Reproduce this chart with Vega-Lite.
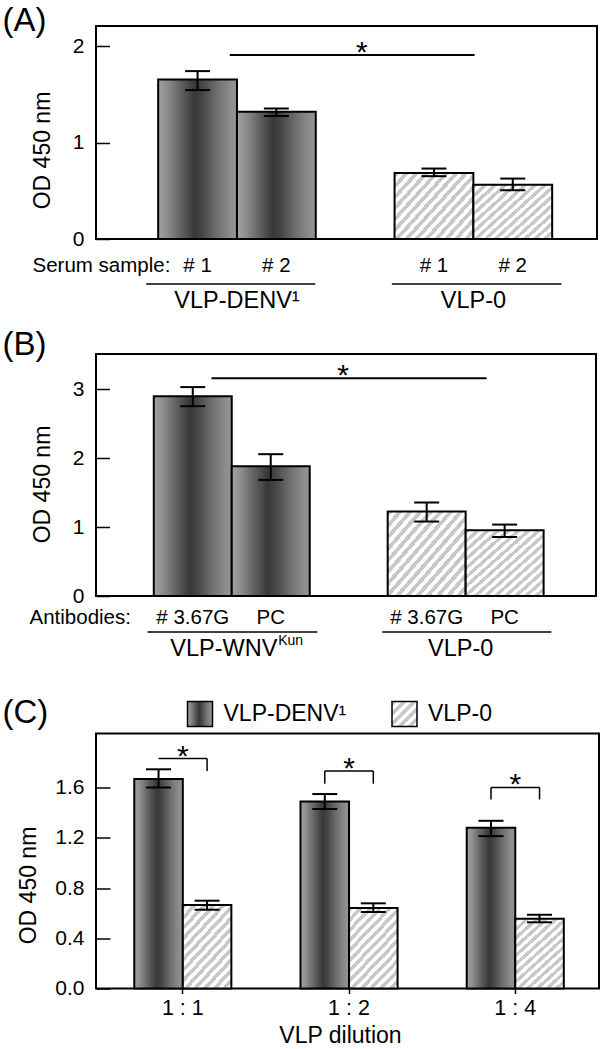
{
  "$schema": "https://vega.github.io/schema/vega-lite/v6.json",
  "background": "white",
  "padding": {"left": 1, "top": 4, "right": 0, "bottom": 0},
  "params": [
    {"name": "G", "value": "#c8c8c8"},
    {"name": "W", "value": "#ffffff"},
    {"name": "dark", "expr": "{gradient:'linear',x1:0,y1:0,x2:1,y2:0,stops:[{offset:0,color:'#a2a2a2'},{offset:0.12,color:'#8c8c8c'},{offset:0.3,color:'#5e5e5e'},{offset:0.46,color:'#383838'},{offset:0.56,color:'#464646'},{offset:0.74,color:'#6e6e6e'},{offset:0.9,color:'#8a8a8a'},{offset:1,color:'#969696'}]}"},
    {"name": "hatchA", "expr": "{gradient:'linear',x1:0,y1:0,x2:1.116,y2:0.847,stops:[{offset:0,color:G},{offset:0.0357,color:G},{offset:0.0357,color:W},{offset:0.0714,color:W},{offset:0.0714,color:G},{offset:0.1071,color:G},{offset:0.1071,color:W},{offset:0.1429,color:W},{offset:0.1429,color:G},{offset:0.1786,color:G},{offset:0.1786,color:W},{offset:0.2143,color:W},{offset:0.2143,color:G},{offset:0.25,color:G},{offset:0.25,color:W},{offset:0.2857,color:W},{offset:0.2857,color:G},{offset:0.3214,color:G},{offset:0.3214,color:W},{offset:0.3571,color:W},{offset:0.3571,color:G},{offset:0.3929,color:G},{offset:0.3929,color:W},{offset:0.4286,color:W},{offset:0.4286,color:G},{offset:0.4643,color:G},{offset:0.4643,color:W},{offset:0.5,color:W},{offset:0.5,color:G},{offset:0.5357,color:G},{offset:0.5357,color:W},{offset:0.5714,color:W},{offset:0.5714,color:G},{offset:0.6071,color:G},{offset:0.6071,color:W},{offset:0.6429,color:W},{offset:0.6429,color:G},{offset:0.6786,color:G},{offset:0.6786,color:W},{offset:0.7143,color:W},{offset:0.7143,color:G},{offset:0.75,color:G},{offset:0.75,color:W},{offset:0.7857,color:W},{offset:0.7857,color:G},{offset:0.8214,color:G},{offset:0.8214,color:W},{offset:0.8571,color:W},{offset:0.8571,color:G},{offset:0.8929,color:G},{offset:0.8929,color:W},{offset:0.9286,color:W},{offset:0.9286,color:G},{offset:0.9643,color:G},{offset:0.9643,color:W},{offset:1,color:W}]}"},
    {"name": "hatchB", "expr": "{gradient:'linear',x1:0,y1:0,x2:1.0253,y2:0.9734,stops:[{offset:0,color:G},{offset:0.0333,color:G},{offset:0.0333,color:W},{offset:0.0667,color:W},{offset:0.0667,color:G},{offset:0.1,color:G},{offset:0.1,color:W},{offset:0.1333,color:W},{offset:0.1333,color:G},{offset:0.1667,color:G},{offset:0.1667,color:W},{offset:0.2,color:W},{offset:0.2,color:G},{offset:0.2333,color:G},{offset:0.2333,color:W},{offset:0.2667,color:W},{offset:0.2667,color:G},{offset:0.3,color:G},{offset:0.3,color:W},{offset:0.3333,color:W},{offset:0.3333,color:G},{offset:0.3667,color:G},{offset:0.3667,color:W},{offset:0.4,color:W},{offset:0.4,color:G},{offset:0.4333,color:G},{offset:0.4333,color:W},{offset:0.4667,color:W},{offset:0.4667,color:G},{offset:0.5,color:G},{offset:0.5,color:W},{offset:0.5333,color:W},{offset:0.5333,color:G},{offset:0.5667,color:G},{offset:0.5667,color:W},{offset:0.6,color:W},{offset:0.6,color:G},{offset:0.6333,color:G},{offset:0.6333,color:W},{offset:0.6667,color:W},{offset:0.6667,color:G},{offset:0.7,color:G},{offset:0.7,color:W},{offset:0.7333,color:W},{offset:0.7333,color:G},{offset:0.7667,color:G},{offset:0.7667,color:W},{offset:0.8,color:W},{offset:0.8,color:G},{offset:0.8333,color:G},{offset:0.8333,color:W},{offset:0.8667,color:W},{offset:0.8667,color:G},{offset:0.9,color:G},{offset:0.9,color:W},{offset:0.9333,color:W},{offset:0.9333,color:G},{offset:0.9667,color:G},{offset:0.9667,color:W},{offset:1,color:W}]}"},
    {"name": "hatchC", "expr": "{gradient:'linear',x1:0,y1:0,x2:0.735,y2:1.167,stops:[{offset:0,color:G},{offset:0.0385,color:G},{offset:0.0385,color:W},{offset:0.0769,color:W},{offset:0.0769,color:G},{offset:0.1154,color:G},{offset:0.1154,color:W},{offset:0.1538,color:W},{offset:0.1538,color:G},{offset:0.1923,color:G},{offset:0.1923,color:W},{offset:0.2308,color:W},{offset:0.2308,color:G},{offset:0.2692,color:G},{offset:0.2692,color:W},{offset:0.3077,color:W},{offset:0.3077,color:G},{offset:0.3462,color:G},{offset:0.3462,color:W},{offset:0.3846,color:W},{offset:0.3846,color:G},{offset:0.4231,color:G},{offset:0.4231,color:W},{offset:0.4615,color:W},{offset:0.4615,color:G},{offset:0.5,color:G},{offset:0.5,color:W},{offset:0.5385,color:W},{offset:0.5385,color:G},{offset:0.5769,color:G},{offset:0.5769,color:W},{offset:0.6154,color:W},{offset:0.6154,color:G},{offset:0.6538,color:G},{offset:0.6538,color:W},{offset:0.6923,color:W},{offset:0.6923,color:G},{offset:0.7308,color:G},{offset:0.7308,color:W},{offset:0.7692,color:W},{offset:0.7692,color:G},{offset:0.8077,color:G},{offset:0.8077,color:W},{offset:0.8462,color:W},{offset:0.8462,color:G},{offset:0.8846,color:G},{offset:0.8846,color:W},{offset:0.9231,color:W},{offset:0.9231,color:G},{offset:0.9615,color:G},{offset:0.9615,color:W},{offset:1,color:W}]}"},
    {"name": "hatchL", "expr": "{gradient:'linear',x1:0,y1:0,x2:1,y2:1,stops:[{offset:0,color:G},{offset:0.1,color:G},{offset:0.1,color:W},{offset:0.2,color:W},{offset:0.2,color:G},{offset:0.3,color:G},{offset:0.3,color:W},{offset:0.4,color:W},{offset:0.4,color:G},{offset:0.5,color:G},{offset:0.5,color:W},{offset:0.6,color:W},{offset:0.6,color:G},{offset:0.7,color:G},{offset:0.7,color:W},{offset:0.8,color:W},{offset:0.8,color:G},{offset:0.9,color:G},{offset:0.9,color:W},{offset:1,color:W}]}"}
  ],
  "datasets": {
    "A": [
      {"id": "d1", "type": "DENV", "value": 1.656, "lo": 1.545, "hi": 1.742},
      {"id": "d2", "type": "DENV", "value": 1.32, "lo": 1.276, "hi": 1.354},
      {"id": "z1", "type": "VLP-0", "value": 0.686, "lo": 0.652, "hi": 0.731},
      {"id": "z2", "type": "VLP-0", "value": 0.562, "lo": 0.506, "hi": 0.627}
    ],
    "B": [
      {"id": "d1", "type": "DENV", "value": 2.898, "lo": 2.753, "hi": 3.03},
      {"id": "d2", "type": "DENV", "value": 1.882, "lo": 1.684, "hi": 2.057},
      {"id": "z1", "type": "VLP-0", "value": 1.225, "lo": 1.08, "hi": 1.356},
      {"id": "z2", "type": "VLP-0", "value": 0.954, "lo": 0.856, "hi": 1.036}
    ],
    "C": [
      {"dil": "1 : 1", "type": "VLP-DENV¹", "value": 1.668, "lo": 1.6, "hi": 1.745},
      {"dil": "1 : 1", "type": "VLP-0", "value": 0.665, "lo": 0.627, "hi": 0.699},
      {"dil": "1 : 2", "type": "VLP-DENV¹", "value": 1.489, "lo": 1.429, "hi": 1.548},
      {"dil": "1 : 2", "type": "VLP-0", "value": 0.641, "lo": 0.609, "hi": 0.678},
      {"dil": "1 : 4", "type": "VLP-DENV¹", "value": 1.279, "lo": 1.213, "hi": 1.335},
      {"dil": "1 : 4", "type": "VLP-0", "value": 0.555, "lo": 0.527, "hi": 0.587}
    ],
    "Cbr": [
      {"dil": "1 : 1", "top": 1.83},
      {"dil": "1 : 2", "top": 1.732},
      {"dil": "1 : 4", "top": 1.601}
    ],
    "Cdrop": [
      {"dil": "1 : 1", "type": "VLP-0", "top": 1.83, "bottom": 1.732},
      {"dil": "1 : 2", "type": "VLP-DENV¹", "top": 1.732, "bottom": 1.63},
      {"dil": "1 : 2", "type": "VLP-0", "top": 1.732, "bottom": 1.63},
      {"dil": "1 : 4", "type": "VLP-DENV¹", "top": 1.601, "bottom": 1.505},
      {"dil": "1 : 4", "type": "VLP-0", "top": 1.601, "bottom": 1.505}
    ],
    "Agroups": [
      {"label": "VLP-DENV¹", "at": "d1"},
      {"label": "VLP-0", "at": "z1"}
    ],
    "one": [{}]
  },
  "config": {
    "font": "Liberation Sans",
    "view": {"stroke": "black", "strokeWidth": 2},
    "axis": {"labelFontSize": 21, "labelColor": "black", "titleFontSize": 23, "titleFontWeight": "normal", "titleColor": "black", "grid": false, "domain": false, "tickColor": "black", "labelFont": "Liberation Sans", "titleFont": "Liberation Sans"},
    "title": {"fontSize": 33, "fontWeight": "normal", "color": "black", "font": "Liberation Sans"},
    "text": {"font": "Liberation Sans", "color": "black"},
    "legend": {"labelFont": "Liberation Sans", "labelColor": "black"}
  },
  "resolve": {"scale": {"fill": "independent", "x": "independent", "y": "independent"}},
  "spacing": 115,
  "bounds": "flush",
  "vconcat": [
    {
      "width": 501,
      "height": 213,
      "title": {"text": "(A)", "anchor": "start", "frame": "group", "dx": -93.5, "offset": -38.2, "baseline": "alphabetic"},
      "data": {"name": "A"},
      "layer": [
        {
          "mark": {"type": "bar", "stroke": "black", "strokeWidth": 2, "opacity": 1},
          "encoding": {
            "x": {"field": "id", "type": "nominal",
              "scale": {"domain": ["d1", "d2", "gap", "z1", "z2"], "paddingInner": 0, "paddingOuter": 0.679, "align": 0.581, "round": false},
              "axis": {"values": ["d1", "d2", "z1", "z2"], "labelExpr": "'# ' + substring(datum.value, 1)", "labelAngle": 0, "labelPadding": 32, "labelBaseline": "alphabetic", "labelFontSize": 20.5, "ticks": false, "tickSize": 0,
                "title": "Serum sample:", "titleAnchor": "start", "titleAlign": "left", "titleX": -64, "titleY": 32, "titleBaseline": "alphabetic", "titleFontSize": 20.5}},
            "y": {"field": "value", "type": "quantitative", "stack": null,
              "scale": {"domain": [0, 2.21], "nice": false},
              "axis": {"values": [0, 0.5, 1, 1.5, 2], "format": "d", "labelExpr": "datum.value % 1 ? '' : datum.label", "tickSize": -13.5, "tickWidth": 1.5, "labelPadding": 25.5,
                "title": "OD 450 nm", "titleX": -53.5, "titleY": 124, "titleBaseline": "middle"}},
            "fill": {"field": "type", "type": "nominal", "scale": {"domain": ["DENV", "VLP-0"], "range": [{"expr": "dark"}, {"expr": "hatchA"}]}, "legend": null}
          }
        },
        {"mark": {"type": "rule", "strokeWidth": 2, "color": "black"},
          "encoding": {"x": {"field": "id", "type": "nominal"}, "y": {"field": "lo", "type": "quantitative"}, "y2": {"field": "hi"}}},
        {"mark": {"type": "tick", "orient": "horizontal", "size": 25, "thickness": 2, "color": "black", "opacity": 1},
          "encoding": {"x": {"field": "id", "type": "nominal"}, "y": {"field": "lo", "type": "quantitative"}}},
        {"mark": {"type": "tick", "orient": "horizontal", "size": 25, "thickness": 2, "color": "black", "opacity": 1},
          "encoding": {"x": {"field": "id", "type": "nominal"}, "y": {"field": "hi", "type": "quantitative"}}},
        {"data": {"name": "one"},
          "mark": {"type": "rule", "strokeWidth": 2, "color": "black", "xOffset": 32.2, "x2Offset": 40.6},
          "encoding": {"x": {"datum": "d1", "type": "nominal"}, "x2": {"datum": "z1"}, "y": {"datum": 1.91, "type": "quantitative"}}},
        {"data": {"name": "one"},
          "mark": {"type": "text", "text": "*", "fontSize": 30, "dx": 6.6, "dy": 7, "baseline": "alphabetic"},
          "encoding": {"x": {"datum": "gap", "type": "nominal"}, "y": {"datum": 1.91, "type": "quantitative"}}},
        {"data": {"name": "one"},
          "mark": {"type": "rule", "strokeWidth": 1.5, "color": "black", "xOffset": -51.4, "x2Offset": 38.9, "clip": false},
          "encoding": {"x": {"datum": "d1", "type": "nominal"}, "x2": {"datum": "d2"}, "y": {"datum": -0.468, "type": "quantitative"}}},
        {"data": {"name": "one"},
          "mark": {"type": "rule", "strokeWidth": 1.5, "color": "black", "xOffset": -42.1, "x2Offset": 48.6, "clip": false},
          "encoding": {"x": {"datum": "z1", "type": "nominal"}, "x2": {"datum": "z2"}, "y": {"datum": -0.468, "type": "quantitative"}}},
        {"data": {"name": "Agroups"},
          "mark": {"type": "text", "fontSize": 23.5, "baseline": "middle", "align": "center", "clip": false},
          "encoding": {"x": {"field": "at", "type": "nominal", "bandPosition": 1}, "y": {"datum": -0.642, "type": "quantitative"}, "text": {"field": "label"}}}
      ]
    },
    {
      "spacing": 137.5,
      "bounds": "flush",
      "resolve": {"scale": {"fill": "independent", "x": "independent", "y": "independent"}},
      "vconcat": [
        {
          "width": 500,
          "height": 242,
          "title": {"text": "(B)", "anchor": "start", "frame": "group", "dx": -93.5, "offset": -33.7, "baseline": "alphabetic"},
          "data": {"name": "B"},
          "layer": [
            {
              "mark": {"type": "bar", "stroke": "black", "strokeWidth": 2, "opacity": 1},
              "encoding": {
                "x": {"field": "id", "type": "nominal",
                  "scale": {"domain": ["d1", "d2", "gap", "z1", "z2"], "paddingInner": 0, "paddingOuter": 0.7064, "align": 0.5245, "round": false},
                  "axis": {"values": ["d1", "d2", "z1", "z2"], "labelExpr": "substring(datum.value, 1) == '1' ? '# 3.67G' : 'PC'", "labelAngle": 0, "labelPadding": 27, "labelBaseline": "alphabetic", "labelFontSize": 20.5, "ticks": false, "tickSize": 0,
                    "title": "Antibodies:", "titleAnchor": "start", "titleAlign": "left", "titleX": -67, "titleY": 27, "titleBaseline": "alphabetic", "titleFontSize": 20.5}},
                "y": {"field": "value", "type": "quantitative", "stack": null,
                  "scale": {"domain": [0, 3.51], "nice": false},
                  "axis": {"values": [0, 0.5, 1, 1.5, 2, 2.5, 3], "format": "d", "labelExpr": "datum.value % 1 ? '' : datum.label", "tickSize": -13.5, "tickWidth": 1.5, "labelPadding": 25.5,
                    "title": "OD 450 nm", "titleX": -53.2, "titleY": 130, "titleBaseline": "middle"}},
                "fill": {"field": "type", "type": "nominal", "scale": {"domain": ["DENV", "VLP-0"], "range": [{"expr": "dark"}, {"expr": "hatchB"}]}, "legend": null}
              }
            },
            {"mark": {"type": "rule", "strokeWidth": 2, "color": "black"},
              "encoding": {"x": {"field": "id", "type": "nominal"}, "y": {"field": "lo", "type": "quantitative"}, "y2": {"field": "hi"}}},
            {"mark": {"type": "tick", "orient": "horizontal", "size": 25, "thickness": 2, "color": "black", "opacity": 1},
              "encoding": {"x": {"field": "id", "type": "nominal"}, "y": {"field": "lo", "type": "quantitative"}}},
            {"mark": {"type": "tick", "orient": "horizontal", "size": 25, "thickness": 2, "color": "black", "opacity": 1},
              "encoding": {"x": {"field": "id", "type": "nominal"}, "y": {"field": "hi", "type": "quantitative"}}},
            {"data": {"name": "one"},
              "mark": {"type": "rule", "strokeWidth": 2, "color": "black", "xOffset": 18.7, "x2Offset": 60},
              "encoding": {"x": {"datum": "d1", "type": "nominal"}, "x2": {"datum": "z1"}, "y": {"datum": 3.16, "type": "quantitative"}}},
            {"data": {"name": "one"},
              "mark": {"type": "text", "text": "*", "fontSize": 30, "dx": -5.6, "dy": 7, "baseline": "alphabetic"},
              "encoding": {"x": {"datum": "gap", "type": "nominal"}, "y": {"datum": 3.16, "type": "quantitative"}}},
            {"data": {"name": "one"},
              "mark": {"type": "rule", "strokeWidth": 1.5, "color": "black", "xOffset": -45.3, "x2Offset": 46.7, "clip": false},
              "encoding": {"x": {"datum": "d1", "type": "nominal"}, "x2": {"datum": "d2"}, "y": {"datum": -0.522, "type": "quantitative"}}},
            {"data": {"name": "one"},
              "mark": {"type": "rule", "strokeWidth": 1.5, "color": "black", "xOffset": -44.3, "x2Offset": 46.7, "clip": false},
              "encoding": {"x": {"datum": "z1", "type": "nominal"}, "x2": {"datum": "z2"}, "y": {"datum": -0.522, "type": "quantitative"}}},
            {"data": {"name": "one"},
              "mark": {"type": "text", "text": "VLP-WNV", "fontSize": 23.5, "baseline": "middle", "align": "right", "dx": 45.7, "clip": false},
              "encoding": {"x": {"datum": "d1", "type": "nominal", "bandPosition": 1}, "y": {"datum": -0.774, "type": "quantitative"}}},
            {"data": {"name": "one"},
              "mark": {"type": "text", "text": "Kun", "fontSize": 14, "baseline": "middle", "align": "left", "dx": 46.5, "dy": -8, "clip": false},
              "encoding": {"x": {"datum": "d1", "type": "nominal", "bandPosition": 1}, "y": {"datum": -0.774, "type": "quantitative"}}},
            {"data": {"name": "one"},
              "mark": {"type": "text", "text": "VLP-0", "fontSize": 23.5, "baseline": "middle", "align": "center", "dx": -5, "clip": false},
              "encoding": {"x": {"datum": "z1", "type": "nominal", "bandPosition": 1}, "y": {"datum": -0.774, "type": "quantitative"}}}
          ]
        },
        {
          "width": 503,
          "height": 255,
          "title": {"text": "(C)", "anchor": "start", "frame": "group", "dx": -93.5, "offset": -55.2, "baseline": "alphabetic"},
          "data": {"name": "C"},
          "layer": [
            {
              "mark": {"type": "bar", "stroke": "black", "strokeWidth": 2, "opacity": 1},
              "encoding": {
                "x": {"field": "dil", "type": "ordinal",
                  "scale": {"domain": ["1 : 1", "1 : 2", "1 : 4"], "paddingInner": 0.416, "paddingOuter": 0.221, "align": 0.521, "round": false},
                  "axis": {"labelAngle": 0, "labelPadding": 21, "labelBaseline": "alphabetic", "labelFontSize": 21.5, "ticks": true, "tickSize": 5, "tickWidth": 1.5,
                    "title": "VLP dilution", "titleX": 244, "titleAlign": "center", "titleY": 54, "titleBaseline": "alphabetic"}},
                "xOffset": {"field": "type", "type": "nominal", "scale": {"domain": ["VLP-DENV¹", "VLP-0"], "paddingInner": 0, "paddingOuter": 0}},
                "y": {"field": "value", "type": "quantitative", "stack": null,
                  "scale": {"domain": [0, 2.03], "nice": false},
                  "axis": {"values": [0, 0.2, 0.4, 0.6, 0.8, 1, 1.2, 1.4, 1.6, 1.8], "labelExpr": "round(datum.value*10) % 4 ? '' : format(datum.value, '.1f')", "tickSize": -14, "tickWidth": 1.5, "labelPadding": 26,
                    "title": "OD 450 nm", "titleX": -67.5, "titleY": 151.5, "titleBaseline": "middle"}},
                "fill": {"field": "type", "type": "nominal",
                  "scale": {"domain": ["VLP-DENV¹", "VLP-0", "VLP-0 key"], "range": [{"expr": "dark"}, {"expr": "hatchC"}, {"expr": "hatchL"}]},
                  "legend": {"orient": "none", "legendX": 90.5, "legendY": -33, "direction": "horizontal", "title": null, "values": ["VLP-DENV¹", "VLP-0 key"],
                    "labelExpr": "datum.value === 'VLP-0 key' ? 'VLP-0' : datum.value", "symbolType": "square", "symbolSize": 625, "symbolStrokeColor": "black", "symbolStrokeWidth": 1.5,
                    "labelFontSize": 23, "labelOffset": 10, "columnPadding": 42.5, "padding": 0}}
              }
            },
            {"mark": {"type": "rule", "strokeWidth": 2, "color": "black"},
              "encoding": {"x": {"field": "dil", "type": "ordinal"}, "xOffset": {"field": "type", "type": "nominal"}, "y": {"field": "lo", "type": "quantitative"}, "y2": {"field": "hi"}}},
            {"mark": {"type": "tick", "orient": "horizontal", "size": 25, "thickness": 2, "color": "black", "opacity": 1},
              "encoding": {"x": {"field": "dil", "type": "ordinal"}, "xOffset": {"field": "type", "type": "nominal"}, "y": {"field": "lo", "type": "quantitative"}}},
            {"mark": {"type": "tick", "orient": "horizontal", "size": 25, "thickness": 2, "color": "black", "opacity": 1},
              "encoding": {"x": {"field": "dil", "type": "ordinal"}, "xOffset": {"field": "type", "type": "nominal"}, "y": {"field": "hi", "type": "quantitative"}}},
            {"data": {"name": "Cbr"},
              "mark": {"type": "rule", "strokeWidth": 1.5, "color": "black", "xOffset": -24.25, "x2Offset": 24.25},
              "encoding": {"x": {"field": "dil", "type": "ordinal"}, "x2": {"field": "dil"}, "y": {"field": "top", "type": "quantitative"}}},
            {"data": {"name": "Cdrop"},
              "mark": {"type": "rule", "strokeWidth": 1.5, "color": "black"},
              "encoding": {"x": {"field": "dil", "type": "ordinal"}, "xOffset": {"field": "type", "type": "nominal"}, "y": {"field": "top", "type": "quantitative"}, "y2": {"field": "bottom"}}},
            {"data": {"name": "Cbr"},
              "mark": {"type": "text", "text": "*", "fontSize": 30, "dy": 7, "baseline": "alphabetic"},
              "encoding": {"x": {"field": "dil", "type": "ordinal"}, "y": {"field": "top", "type": "quantitative"}}}
          ]
        }
      ]
    }
  ]
}
